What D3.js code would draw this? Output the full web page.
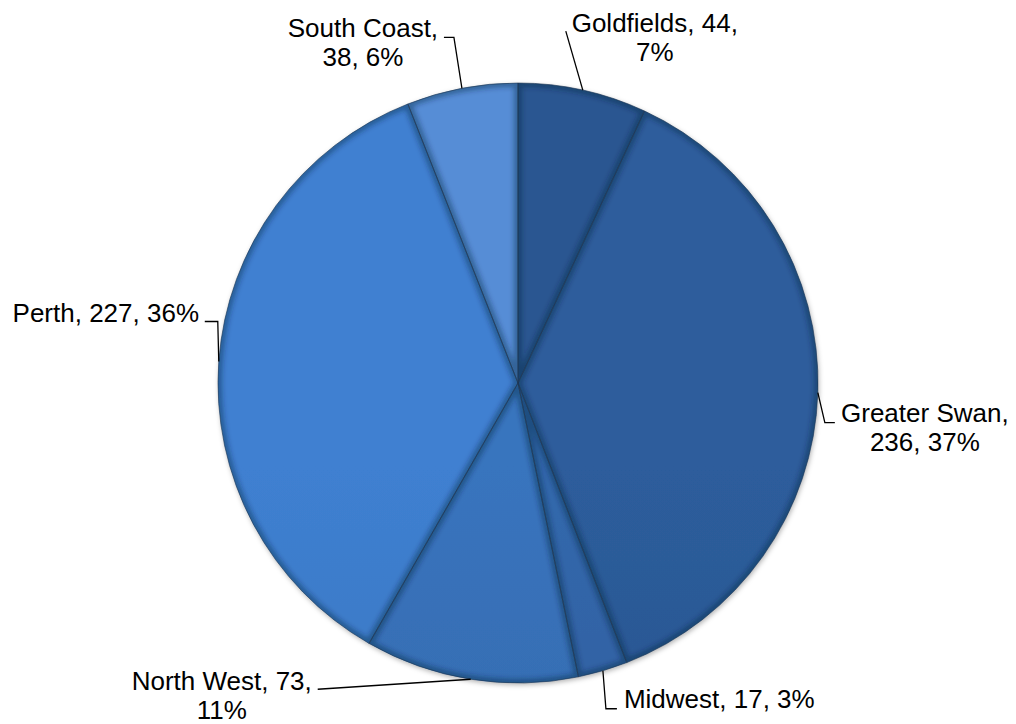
<!DOCTYPE html>
<html>
  <head>
    <meta charset="utf-8">
    <title>Regions</title>
    <script src="https://cdn.jsdelivr.net/npm/d3@7/dist/d3.min.js"></script>
    <style>
      body { margin: 0; background: #fff; }
      svg { display: block; }
      .label { font-family: "Liberation Sans", Arial, sans-serif; font-size: 26px; fill: #000; }
      .leader { fill: none; stroke: #000; stroke-width: 1.3; }
    </style>
  </head>

  <body>
    <div id="container"></div>

    <script>
      // data
      const regions = ["Goldfields", "Greater Swan", "Midwest", "North West", "Perth", "South Coast"];
      const counts = [44, 236, 17, 73, 227, 38];
      const colours = ["#28528b", "#2b5995", "#3164a6", "#376fb6", "#3c7bc8", "#5287cd"];

      // label placement, relative to the point where the leader leaves the pie
      // wrap: 0 = one line, 1 = break after name, 2 = break after count
      const labelLayout = [
        {dx: 72, dy: -58, anchor: "middle", wrap: 2, leader: [[0, 0], [-17, -59]]},
        {dx: 107, dy: 29, anchor: "middle", wrap: 1, leader: [[0, 0], [7, 30], [17, 30]]},
        {dx: 21, dy: 37, anchor: "start", wrap: 0, leader: [[0, 0], [3, 38], [14, 38]]},
        {dx: -249, dy: 11, anchor: "middle", wrap: 2, leader: [[0, 0], [-153, 10]]},
        {dx: -113, dy: -40, anchor: "middle", wrap: 0, leader: [[0, 0], [-1, -40], [-14, -40]]},
        {dx: -99, dy: -51, anchor: "middle", wrap: 1, leader: [[0, 0], [-8, -51], [-18, -51]]}
      ];

      const width = 1016, height = 724;
      const cx = 518, cy = 383, radius = 300;
      const lineHeight = 29;

      const chartData = regions.map((r, i) => ({region: r, count: counts[i], colour: colours[i], layout: labelLayout[i]}));
      const total = d3.sum(counts);
      const pct = d3.format(".0%");

      const svg = d3.select("#container").append("svg")
        .attr("width", width)
        .attr("height", height);

      const defs = svg.append("defs");

      // soft shadow under the whole pie
      const shadow = defs.append("filter")
        .attr("id", "shadow")
        .attr("x", "-10%").attr("y", "-10%").attr("width", "120%").attr("height", "120%");
      shadow.append("feDropShadow")
        .attr("dx", 1).attr("dy", 2)
        .attr("stdDeviation", 2.5)
        .attr("flood-color", "#000")
        .attr("flood-opacity", 0.3);

      const blur = defs.append("filter").attr("id", "edgeBlur");
      blur.append("feGaussianBlur").attr("stdDeviation", 2.5);

      // vertical gradient per slice, spanning the whole pie
      chartData.forEach((d, i) => {
        const g = defs.append("linearGradient")
          .attr("id", "grad" + i)
          .attr("gradientUnits", "userSpaceOnUse")
          .attr("x1", 0).attr("x2", 0)
          .attr("y1", cy - radius).attr("y2", cy + radius);
        g.append("stop").attr("offset", 0).attr("stop-color", d3.color(d.colour).brighter(0.12));
        g.append("stop").attr("offset", 1).attr("stop-color", d3.color(d.colour).darker(0.3));
      });

      const pie = d3.pie()
        .sort(null)
        .value(d => d.count);

      const arc = d3.arc()
        .innerRadius(0)
        .outerRadius(radius);

      const edge = d3.arc()
        .innerRadius(radius)
        .outerRadius(radius);

      const arcs = pie(chartData);

      arcs.forEach((d, i) => {
        defs.append("clipPath")
          .attr("id", "clip" + i)
          .append("path")
          .attr("d", arc(d));
      });

      const chart = svg.append("g")
        .attr("transform", "translate(" + cx + "," + cy + ")");

      const slices = chart.append("g")
        .attr("filter", "url(#shadow)");

      slices.selectAll("path.slice")
          .data(arcs)
        .enter().append("path")
          .classed("slice", true)
          .attr("d", arc)
          .attr("fill", (d, i) => "url(#grad" + i + ")");

      // bevel: dark inner edge
      const bevel = chart.append("g");
      bevel.selectAll("g")
          .data(arcs)
        .enter().append("g")
          .attr("clip-path", (d, i) => "url(#clip" + i + ")")
          .append("path")
            .attr("d", arc)
            .attr("fill", "none")
            .attr("stroke", "#0d2240")
            .attr("stroke-opacity", 0.4)
            .attr("stroke-width", 8)
            .attr("filter", "url(#edgeBlur)");

      chart.append("g").selectAll("path")
          .data(arcs)
        .enter().append("path")
          .attr("d", arc)
          .attr("fill", "none")
          .attr("stroke", "#1e3553")
          .attr("stroke-opacity", 0.75)
          .attr("stroke-width", 0.8);

      // leaders and labels
      const labels = chart.append("g");

      arcs.forEach(d => {
        const p = edge.centroid(d);
        const lay = d.data.layout;
        const parts = [d.data.region, String(d.data.count), pct(d.data.count / total)];
        let lines;
        if (lay.wrap === 1) lines = [parts[0] + ",", parts[1] + ", " + parts[2]];
        else if (lay.wrap === 2) lines = [parts[0] + ", " + parts[1] + ",", parts[2]];
        else lines = [parts.join(", ")];

        labels.append("path")
          .classed("leader", true)
          .attr("d", d3.line()(lay.leader.map(o => [p[0] + o[0], p[1] + o[1]])));

        const text = labels.append("text")
          .classed("label", true)
          .attr("text-anchor", lay.anchor)
          .attr("x", p[0] + lay.dx)
          .attr("y", p[1] + lay.dy);

        text.selectAll("tspan")
            .data(lines)
          .enter().append("tspan")
            .attr("x", p[0] + lay.dx)
            .attr("dy", (l, j) => j === 0 ? 0 : lineHeight)
            .text(l => l);
      });
    </script>
  </body>
</html>
